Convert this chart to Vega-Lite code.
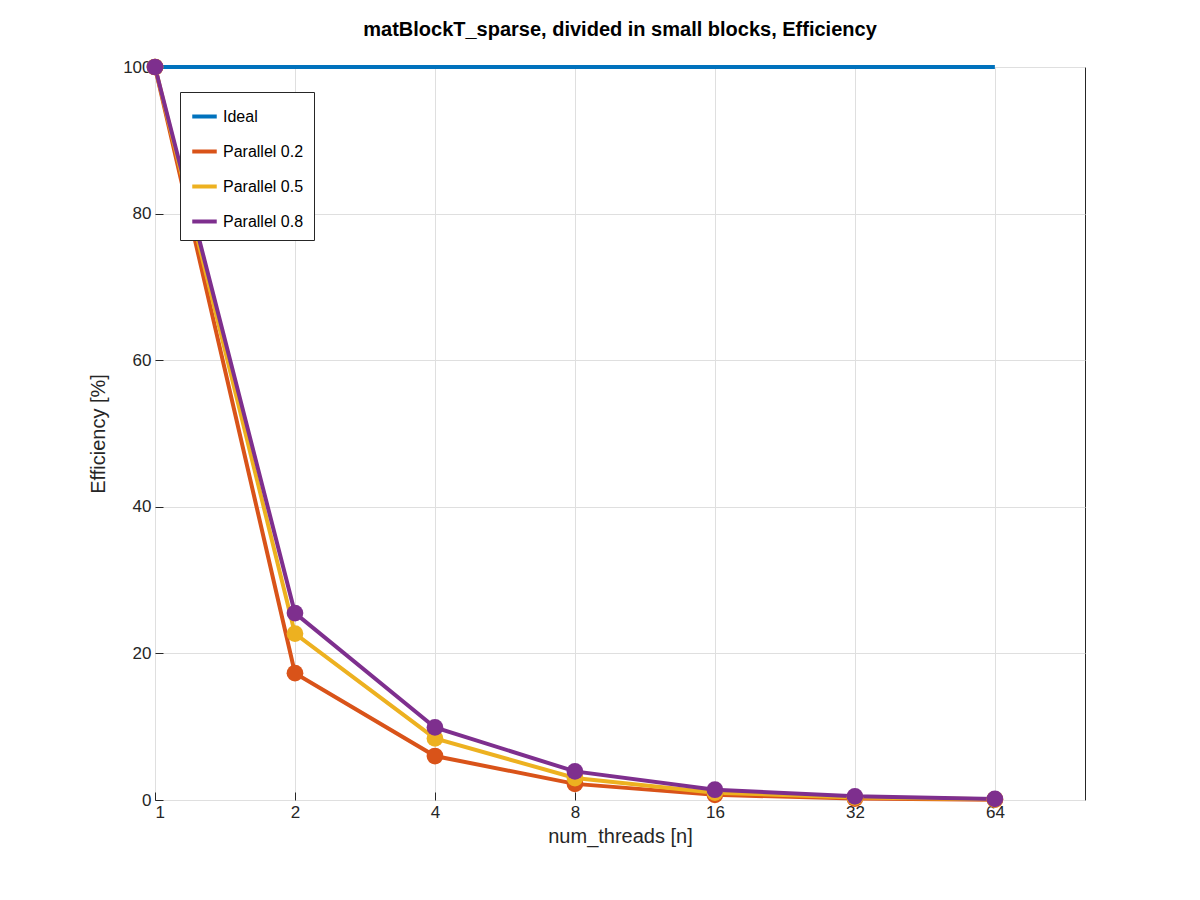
{
  "$schema": "https://vega.github.io/schema/vega-lite/v6.json",
  "autosize": {"type": "none"},
  "width": 930,
  "height": 733,
  "padding": {"left": 155, "top": 67, "right": 115, "bottom": 100},
  "background": "white",
  "config": {
    "font": "Liberation Sans",
    "view": {"stroke": "#262626", "strokeWidth": 1},
    "axis": {
      "gridColor": "#dfdfdf", "gridOpacity": 1, "domain": false,
      "tickColor": "#262626", "tickSize": -8, "labelFontSize": 17, "labelColor": "#262626",
      "titleFontSize": 20, "titleFontWeight": "normal", "titleColor": "#262626", "labelPadding": 12
    }
  },
  "title": {"text": "matBlockT_sparse, divided in small blocks, Efficiency", "fontSize": 20, "fontWeight": "bold", "offset": 18, "color": "#000"},
  "data": {"values": [
    {"n": 1, "s": "Ideal", "e": 100}, {"n": 2, "s": "Ideal", "e": 100}, {"n": 4, "s": "Ideal", "e": 100}, {"n": 8, "s": "Ideal", "e": 100}, {"n": 16, "s": "Ideal", "e": 100}, {"n": 32, "s": "Ideal", "e": 100}, {"n": 64, "s": "Ideal", "e": 100},
    {"n": 1, "s": "Parallel 0.2", "e": 100}, {"n": 2, "s": "Parallel 0.2", "e": 17.3}, {"n": 4, "s": "Parallel 0.2", "e": 6.0}, {"n": 8, "s": "Parallel 0.2", "e": 2.2}, {"n": 16, "s": "Parallel 0.2", "e": 0.7}, {"n": 32, "s": "Parallel 0.2", "e": 0.2}, {"n": 64, "s": "Parallel 0.2", "e": 0.05},
    {"n": 1, "s": "Parallel 0.5", "e": 100}, {"n": 2, "s": "Parallel 0.5", "e": 22.7}, {"n": 4, "s": "Parallel 0.5", "e": 8.4}, {"n": 8, "s": "Parallel 0.5", "e": 3.0}, {"n": 16, "s": "Parallel 0.5", "e": 1.0}, {"n": 32, "s": "Parallel 0.5", "e": 0.35}, {"n": 64, "s": "Parallel 0.5", "e": 0.1},
    {"n": 1, "s": "Parallel 0.8", "e": 100}, {"n": 2, "s": "Parallel 0.8", "e": 25.5}, {"n": 4, "s": "Parallel 0.8", "e": 9.9}, {"n": 8, "s": "Parallel 0.8", "e": 3.9}, {"n": 16, "s": "Parallel 0.8", "e": 1.4}, {"n": 32, "s": "Parallel 0.8", "e": 0.5}, {"n": 64, "s": "Parallel 0.8", "e": 0.15}
  ]},
  "encoding": {
    "x": {"field": "n", "type": "quantitative", "title": "num_threads [n]",
      "scale": {"type": "log", "base": 2, "domain": [1, 100], "nice": false},
      "axis": {"values": [1, 2, 4, 8, 16, 32, 64], "format": "d", "titlePadding": 6}},
    "y": {"field": "e", "type": "quantitative", "title": "Efficiency [%]",
      "scale": {"domain": [0, 100], "nice": false},
      "axis": {"values": [0, 20, 40, 60, 80, 100], "titlePadding": 14}},
    "color": {"field": "s", "type": "nominal",
      "scale": {"domain": ["Ideal", "Parallel 0.2", "Parallel 0.5", "Parallel 0.8"], "range": ["#0072BD", "#D95319", "#EDB120", "#7E2F8E"]},
      "legend": {"title": null, "orient": "none", "legendX": 25, "legendY": 25, "symbolType": "stroke", "symbolStrokeWidth": 4, "symbolSize": 600,
        "labelFontSize": 16, "labelColor": "#000", "rowPadding": 12, "padding": 10, "strokeColor": "#262626", "fillColor": "white"}}
  },
  "layer": [
    {"mark": {"type": "line", "strokeWidth": 4}},
    {"transform": [{"filter": "datum.s !== 'Ideal'"}], "mark": {"type": "circle", "size": 280, "opacity": 1}}
  ]
}
